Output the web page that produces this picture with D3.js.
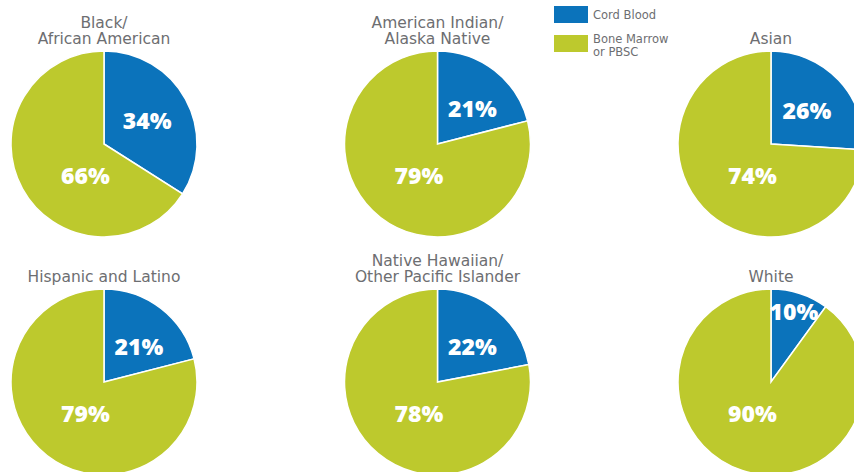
<!DOCTYPE html>
<html>
<head>
<meta charset="utf-8">
<script src="https://cdn.jsdelivr.net/npm/d3@7"></script>
<style>
  html, body { margin: 0; padding: 0; background: #fff; }
  svg { display: block; }
</style>
</head>
<body>
<svg id="chart" width="854" height="472"></svg>
<script>
// Transplant graft source by race/ethnicity
const groups = [
  "Black/\nAfrican American",
  "American Indian/\nAlaska Native",
  "Asian",
  "Hispanic and Latino",
  "Native Hawaiian/\nOther Pacific Islander",
  "White"
];
const cordBlood = [34, 21, 26, 21, 22, 10];
const boneMarrow = [66, 79, 74, 79, 78, 90];
const seriesNames = ["Cord Blood", "Bone Marrow\nor PBSC"];
const seriesColors = ["#0b73bb", "#bdc92d"];

const W = 854, H = 472;
const svg = d3.select("#chart");

const radius = 93;
const colX = d3.scalePoint().domain([0, 1, 2]).range([104, 771]);
const rowY = d3.scalePoint().domain([0, 1]).range([144, 382]);

const pie = d3.pie().sort(null).value(d => d);
const arc = d3.arc().innerRadius(0).outerRadius(radius);
const textFont = "'DejaVu Sans', 'Open Sans', sans-serif";
const valueFont = "'Open Sans', 'DejaVu Sans', sans-serif";

groups.forEach((name, i) => {
  const cx = colX(i % 3), cy = rowY(Math.floor(i / 3));
  const g = svg.append("g").attr("transform", `translate(${cx},${cy})`);
  const slices = pie([cordBlood[i], boneMarrow[i]]);

  g.selectAll("path")
    .data(slices)
    .join("path")
    .attr("d", arc)
    .attr("fill", (d, k) => seriesColors[k])
    .attr("stroke", "#fff")
    .attr("stroke-width", 1.5);

  // Percentage labels: the small slice label sits inside its wedge (further
  // out for narrow wedges), the large one in the lower-left of the disc.
  slices.forEach((d, k) => {
    let a, rr;
    if (k === 0) {
      const span = d.endAngle - d.startAngle;
      const mid = (d.startAngle + d.endAngle) / 2;
      if (span < 0.8) { a = mid; rr = radius * 0.8; }
      else { a = Math.max(mid, Math.PI / 4); rr = radius * 0.53; }
    } else {
      a = 210 * Math.PI / 180;
      rr = radius * 0.4;
    }
    g.append("text")
      .attr("x", Math.sin(a) * rr)
      .attr("y", -Math.cos(a) * rr)
      .attr("dy", "0.36em")
      .attr("text-anchor", "middle")
      .attr("fill", "#fff")
      .attr("font-family", valueFont)
      .attr("font-weight", 800)
      .attr("font-size", 23)
      .text(d.data + "%");
  });

  // Group title above each pie
  const lines = name.split("\n");
  const t = g.append("text")
    .attr("text-anchor", "middle")
    .attr("fill", "#6d6e71")
    .attr("font-family", textFont)
    .attr("font-size", 15.5);
  lines.forEach((ln, j) => {
    t.append("tspan")
      .attr("x", 0)
      .attr("y", -radius - 7 - (lines.length - 1 - j) * 16.5)
      .text(ln);
  });
});

// Legend
const legend = svg.append("g").attr("transform", "translate(554,6)");
seriesNames.forEach((s, k) => {
  const row = legend.append("g").attr("transform", `translate(0,${k * 29})`);
  row.append("rect")
    .attr("width", 34).attr("height", 17)
    .attr("fill", seriesColors[k]);
  const tx = row.append("text")
    .attr("fill", "#6d6e71")
    .attr("font-family", textFont)
    .attr("font-size", 11.5);
  s.split("\n").forEach((ln, j) => {
    tx.append("tspan").attr("x", 39).attr("y", 13 + (k ? -5 : 0) + j * 12.5).text(ln);
  });
});
</script>
</body>
</html>
